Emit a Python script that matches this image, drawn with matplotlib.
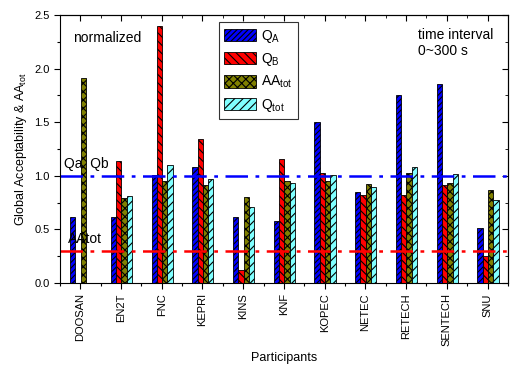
import numpy as np
import matplotlib.pyplot as plt
from matplotlib.ticker import MultipleLocator, FixedLocator

plt.rcParams['font.family'] = ['Liberation Sans', 'DejaVu Sans']
plt.rcParams['hatch.linewidth'] = 0.8
plt.rcParams['mathtext.default'] = 'regular'

participants = ['DOOSAN', 'EN2T', 'FNC', 'KEPRI', 'KINS', 'KNF',
                'KOPEC', 'NETEC', 'RETECH', 'SENTECH', 'SNU']
q_a = [0.62, 0.62, 1.01, 1.08, 0.62, 0.58, 1.50, 0.85, 1.75, 1.86, 0.51]
q_b = [np.nan, 1.14, 2.40, 1.34, 0.12, 1.16, 1.03, 0.82, 0.82, 0.91, 0.25]
aa_tot = [1.91, 0.79, 0.95, 0.91, 0.80, 0.95, 0.95, 0.92, 1.03, 0.93, 0.87]
q_tot = [np.nan, 0.81, 1.10, 0.97, 0.71, 0.93, 1.01, 0.90, 1.08, 1.02, 0.77]

limit_q = 1.0
limit_aa = 0.3

fig = plt.figure(figsize=(5.12, 3.67), dpi=100)
ax = fig.add_axes([0.117, 0.229, 0.875, 0.730])

x = np.arange(1, len(participants) + 1)
w = 0.13
series = [
    (q_a, '#0000ff', '//////', r'$Q_A$'),
    (q_b, '#ff0000', '\\\\\\\\', r'$Q_B$'),
    (aa_tot, '#808000', 'xxxx', r'$AA_{tot}$'),
    (q_tot, '#80ffff', '////', r'$Q_{tot}$'),
]
for i, (vals, col, hatch, lab) in enumerate(series):
    ax.bar(x + (i - 1.5) * w + 0.01, vals, width=w, color=col,
           edgecolor='black', linewidth=0.6, hatch=hatch, label=lab)

ax.axhline(limit_q, color='#0000ff', linestyle='-.', linewidth=1.8,
           dashes=(9, 3, 1.5, 3))
ax.axhline(limit_aa, color='#ff0000', linestyle='-.', linewidth=1.8,
           dashes=(9, 3, 1.5, 3))

ax.text(0.6, 1.11, 'Qa  Qb', fontsize=10, va='center')
ax.text(0.7, 0.41, 'AAtot', fontsize=10, va='center')
ax.text(0.03, 0.914, 'normalized', fontsize=10, va='center',
        transform=ax.transAxes)
ax.text(0.80, 0.953, 'time interval\n0~300 s', fontsize=10, va='top',
        transform=ax.transAxes, linespacing=1.25)

ax.set_xlim(0.5, len(participants) + 0.5)
ax.set_ylim(0, 2.5)
ax.set_xticks(x)
ax.set_xticklabels(participants, rotation=90, fontsize=8)
ax.xaxis.set_minor_locator(FixedLocator(np.arange(0.5, len(participants) + 1, 1)))
ax.yaxis.set_major_locator(MultipleLocator(0.5))
ax.yaxis.set_minor_locator(MultipleLocator(0.25))
ax.yaxis.set_major_formatter(plt.FormatStrFormatter('%.1f'))
ax.tick_params(axis='both', which='major', direction='out', length=4,
               labelsize=8, width=0.8)
ax.tick_params(axis='both', which='minor', direction='out', length=2, width=0.8)

top = ax.secondary_xaxis('top')
top.set_xticks(x)
top.xaxis.set_minor_locator(FixedLocator(np.arange(0.5, len(participants) + 1, 1)))
top.tick_params(which='major', direction='in', length=4, labeltop=False)
top.tick_params(which='minor', direction='in', length=2)
right = ax.secondary_yaxis('right')
right.yaxis.set_major_locator(MultipleLocator(0.5))
right.yaxis.set_minor_locator(MultipleLocator(0.25))
right.tick_params(which='major', direction='in', length=4, labelright=False)
right.tick_params(which='minor', direction='in', length=2)

ax.set_xlabel('Participants', fontsize=9)
ax.set_ylabel(r'Global Acceptability & AA$_{tot}$', fontsize=9)

leg = ax.legend(loc='upper left', bbox_to_anchor=(0.355, 0.974), fontsize=10,
                frameon=True, fancybox=False, edgecolor='black',
                handlelength=2.3, handleheight=1.0, labelspacing=0.45,
                borderpad=0.4, handletextpad=0.3, borderaxespad=0)
leg.get_frame().set_linewidth(0.8)

fig.savefig('out.png', dpi=100)
